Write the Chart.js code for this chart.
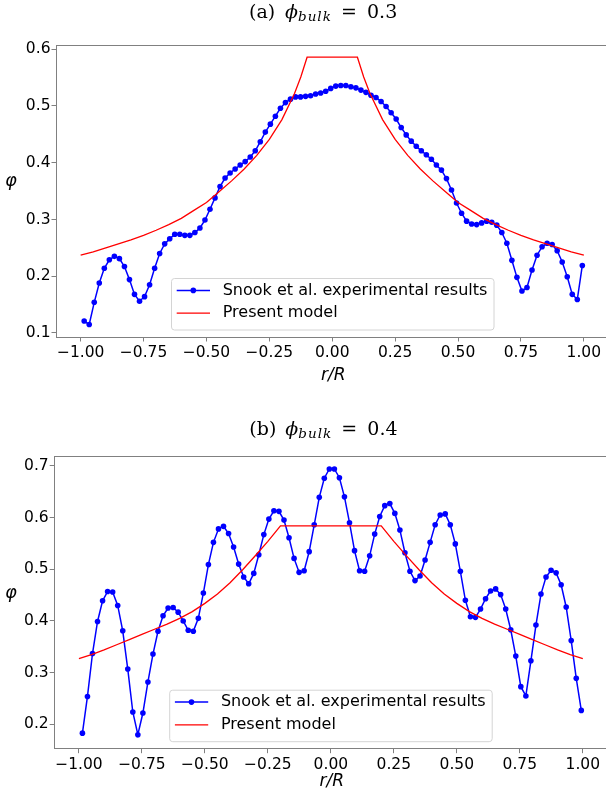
<!DOCTYPE html>
<html>
<head>
<meta charset="utf-8">
<script src="https://cdn.jsdelivr.net/npm/chart.js@4.4.1/dist/chart.umd.min.js"></script>
<style>
  html, body { margin: 0; padding: 0; background: #fff; overflow: hidden; }
  #wrap { position: relative; width: 616px; height: 789px; }
  canvas { position: absolute; left: 0; }
</style>
</head>
<body>
<div id="wrap">
  <canvas id="chartA" width="616" height="398" style="top:0"></canvas>
  <canvas id="chartB" width="616" height="391" style="top:398px"></canvas>
</div>
<script>
// radial positions of the measured points (r/R)
const rGrid = [
  -0.986, -0.966, -0.946, -0.926, -0.906, -0.886, -0.866, -0.846, -0.826, -0.806,
  -0.786, -0.766, -0.746, -0.726, -0.706, -0.686, -0.666, -0.646, -0.626, -0.606,
  -0.586, -0.566, -0.546, -0.526, -0.506, -0.486, -0.466, -0.446, -0.426, -0.406,
  -0.386, -0.366, -0.346, -0.326, -0.306, -0.286, -0.266, -0.246, -0.226, -0.206,
  -0.186, -0.166, -0.146, -0.126, -0.106, -0.086, -0.066, -0.046, -0.026, -0.006,
  0.014, 0.034, 0.054, 0.074, 0.094, 0.114, 0.134, 0.154, 0.174, 0.194,
  0.214, 0.234, 0.254, 0.274, 0.294, 0.314, 0.334, 0.354, 0.374, 0.394,
  0.414, 0.434, 0.454, 0.474, 0.494, 0.514, 0.534, 0.554, 0.574, 0.594,
  0.614, 0.634, 0.654, 0.674, 0.694, 0.714, 0.734, 0.754, 0.774, 0.794,
  0.814, 0.834, 0.854, 0.874, 0.894, 0.914, 0.934, 0.954, 0.974, 0.994
];

// (a) phi_bulk = 0.3 : Snook et al. experimental results
const snookA = [
  0.121, 0.115, 0.154, 0.188, 0.214, 0.229, 0.235, 0.231, 0.217, 0.194,
  0.168, 0.156, 0.164, 0.185, 0.214, 0.240, 0.257, 0.266, 0.274, 0.274,
  0.272, 0.272, 0.277, 0.285, 0.299, 0.318, 0.338, 0.358, 0.373, 0.382,
  0.389, 0.396, 0.402, 0.410, 0.421, 0.437, 0.454, 0.468, 0.482, 0.496,
  0.506, 0.512, 0.516, 0.516, 0.517, 0.518, 0.521, 0.523, 0.526, 0.531,
  0.535, 0.536, 0.536, 0.534, 0.532, 0.528, 0.524, 0.519, 0.515, 0.508,
  0.499, 0.488, 0.477, 0.462, 0.449, 0.438, 0.429, 0.421, 0.414, 0.406,
  0.396, 0.387, 0.372, 0.352, 0.329, 0.311, 0.297, 0.292, 0.291, 0.294,
  0.297, 0.295, 0.290, 0.277, 0.258, 0.228, 0.198, 0.174, 0.180, 0.211,
  0.237, 0.252, 0.258, 0.256, 0.245, 0.225, 0.199, 0.168, 0.159, 0.219
];

// (b) phi_bulk = 0.4 : Snook et al. experimental results
const snookB = [
  0.183, 0.254, 0.337, 0.399, 0.439, 0.457, 0.456, 0.430, 0.381, 0.307,
  0.224, 0.180, 0.222, 0.282, 0.336, 0.380, 0.410, 0.425, 0.426, 0.417,
  0.400, 0.382, 0.380, 0.405, 0.454, 0.509, 0.552, 0.578, 0.583, 0.569,
  0.543, 0.510, 0.485, 0.472, 0.492, 0.528, 0.567, 0.597, 0.613, 0.612,
  0.595, 0.561, 0.521, 0.494, 0.497, 0.534, 0.586, 0.639, 0.676, 0.694,
  0.694, 0.677, 0.640, 0.590, 0.536, 0.497, 0.496, 0.526, 0.568, 0.602,
  0.623, 0.627, 0.608, 0.576, 0.532, 0.496, 0.478, 0.487, 0.518, 0.552,
  0.586, 0.605, 0.607, 0.586, 0.549, 0.496, 0.440, 0.408, 0.407, 0.423,
  0.443, 0.458, 0.462, 0.451, 0.423, 0.383, 0.332, 0.273, 0.255, 0.323,
  0.392, 0.452, 0.485, 0.498, 0.493, 0.470, 0.427, 0.362, 0.289, 0.227
];

// present model curves
const modelRA = [
  -1.0, -0.95, -0.9, -0.85, -0.8, -0.75, -0.7, -0.65, -0.6, -0.55,
  -0.5, -0.45, -0.4, -0.35, -0.3, -0.25, -0.2, -0.15, -0.125, -0.1,
  0.1, 0.125, 0.15, 0.2, 0.25, 0.3, 0.35, 0.4, 0.45, 0.5,
  0.55, 0.6, 0.65, 0.7, 0.75, 0.8, 0.85, 0.9, 0.95, 1.0
];
const modelA = [
  0.237, 0.243, 0.250, 0.257, 0.264, 0.272, 0.281, 0.291, 0.302, 0.316,
  0.330, 0.349, 0.368, 0.389, 0.413, 0.441, 0.476, 0.522, 0.551, 0.586,
  0.586, 0.551, 0.522, 0.476, 0.441, 0.413, 0.389, 0.368, 0.349, 0.330,
  0.316, 0.302, 0.291, 0.281, 0.272, 0.264, 0.257, 0.250, 0.243, 0.237
];
const modelRB = [
  -1.0, -0.95, -0.9, -0.85, -0.8, -0.75, -0.7, -0.65, -0.6, -0.55,
  -0.5, -0.45, -0.4, -0.35, -0.3, -0.25, -0.2,
  0.2, 0.25, 0.3, 0.35, 0.4, 0.45, 0.5, 0.55, 0.6,
  0.65, 0.7, 0.75, 0.8, 0.85, 0.9, 0.95, 1.0
];
const modelB = [
  0.327, 0.335, 0.344, 0.354, 0.364, 0.374, 0.384, 0.394, 0.405, 0.418,
  0.434, 0.452, 0.474, 0.499, 0.526, 0.554, 0.584,
  0.584, 0.554, 0.526, 0.499, 0.474, 0.452, 0.434, 0.418, 0.405,
  0.394, 0.384, 0.374, 0.364, 0.354, 0.344, 0.335, 0.327
];

const xTickValues = [-1, -0.75, -0.5, -0.25, 0, 0.25, 0.5, 0.75, 1];
const yTicksA = [0.1, 0.2, 0.3, 0.4, 0.5, 0.6];
const yTicksB = [0.2, 0.3, 0.4, 0.5, 0.6, 0.7];

const CANVAS_W = 616;
const AXIS_GREY = '#808080';
const tickFont = { family: 'DejaVu Sans', size: 15.5 };

const fmtX = v => (v < 0 ? '\u2212' : '') + Math.abs(v).toFixed(2);
const fmtY = v => v.toFixed(1);

// frame, axis labels, mathtext-like title and inside legend
const decor = {
  id: 'decor',
  afterDraw(chart, args, o) {
    const { ctx, chartArea: a } = chart;
    ctx.save();

    // spines
    ctx.strokeStyle = AXIS_GREY;
    ctx.lineWidth = 1;
    const t = Math.round(a.top) + 0.5, b = Math.round(a.bottom) - 0.5;
    const l = Math.round(a.left) + 0.5, r = Math.round(a.right) - 0.5;
    ctx.strokeRect(l, t, r - l, b - t);

    // title  "(a) ϕ_bulk = 0.3"
    const x0 = o.titleX, base = o.titleY;
    ctx.fillStyle = '#000';
    ctx.textAlign = 'left';
    ctx.textBaseline = 'alphabetic';
    ctx.font = '19px "DejaVu Serif"';
    ctx.fillText(o.tag, x0, base);
    ctx.font = 'italic 19px "DejaVu Serif"';
    ctx.fillText('\u03D5', x0 + 36, base);
    ctx.font = 'italic 13.5px "DejaVu Serif"';
    ctx.letterSpacing = '1px';
    ctx.fillText('bulk', x0 + 49, base + 3.5);
    ctx.letterSpacing = '0px';
    ctx.font = '19px "DejaVu Serif"';
    ctx.fillText('=', x0 + 92, base);
    ctx.fillText(o.value, x0 + 118, base);

    // axis labels
    ctx.textAlign = 'center';
    ctx.font = 'italic 17px "DejaVu Sans"';
    ctx.fillText('r/R', (a.left + a.right) / 2 + 1, a.bottom + o.xLabelDy);
    ctx.font = 'italic 18px "DejaVu Sans"';
    ctx.fillText('\u03C6', 11, (a.top + a.bottom) / 2 - 5);

    // legend box
    const bx = a.left + 115.5, by = a.bottom - 59.5, bw = 322.5, bh = 51.5;
    ctx.beginPath();
    ctx.roundRect(bx + 0.5, by + 0.5, bw, bh, 3);
    ctx.fillStyle = 'rgba(255,255,255,0.8)';
    ctx.fill();
    ctx.strokeStyle = '#d4d4d4';
    ctx.stroke();
    chart.data.datasets.forEach((ds, i) => {
      const y = by + 12.4 + i * 22.8;
      ctx.strokeStyle = ds.borderColor;
      ctx.lineWidth = ds.borderWidth;
      ctx.beginPath();
      ctx.moveTo(bx + 5.7, y);
      ctx.lineTo(bx + 39, y);
      ctx.stroke();
      if (ds.pointRadius > 0) {
        ctx.fillStyle = ds.pointBackgroundColor;
        ctx.beginPath();
        ctx.arc(bx + 22.3, y, ds.pointRadius, 0, Math.PI * 2);
        ctx.fill();
      }
      ctx.fillStyle = '#000';
      ctx.font = '16px "DejaVu Sans"';
      ctx.textAlign = 'left';
      ctx.textBaseline = 'middle';
      ctx.fillText(ds.label, bx + 51.7, y);
    });
    ctx.restore();
  }
};

function makeChart(id, cfg) {
  return new Chart(document.getElementById(id), {
    type: 'line',
    data: {
      datasets: [
        {
          label: 'Snook et al. experimental results',
          data: rGrid.map((r, i) => ({ x: r, y: cfg.snook[i] })),
          borderColor: '#0000ff',
          backgroundColor: '#0000ff',
          pointBackgroundColor: '#0000ff',
          borderWidth: 1.5,
          pointRadius: 2.8,
          pointBorderWidth: 0,
          tension: 0,
          order: 2
        },
        {
          label: 'Present model',
          data: cfg.modelR.map((r, i) => ({ x: r, y: cfg.model[i] })),
          borderColor: '#ff0000',
          backgroundColor: '#ff0000',
          borderWidth: 1.3,
          pointRadius: 0,
          tension: 0,
          order: 1
        }
      ]
    },
    options: {
      responsive: false,
      animation: false,
      devicePixelRatio: 1,
      layout: { padding: { top: cfg.top, right: CANVAS_W - cfg.right, left: 0, bottom: 0 } },
      plugins: {
        legend: { display: false },
        tooltip: { enabled: false },
        decor: cfg.decor
      },
      scales: {
        x: {
          type: 'linear',
          min: -1.1,
          max: 1.1,
          afterFit: s => { s.height = cfg.xAxisH; },
          afterBuildTicks: s => { s.ticks = xTickValues.map(v => ({ value: v })); },
          ticks: { callback: fmtX, font: tickFont, color: '#000', padding: 2, maxRotation: 0, autoSkip: false },
          grid: { drawOnChartArea: false, drawTicks: true, tickLength: 4, tickColor: AXIS_GREY },
          border: { display: false }
        },
        y: {
          type: 'linear',
          min: cfg.yMin,
          max: cfg.yMax,
          afterFit: s => { s.width = cfg.left; },
          afterBuildTicks: s => { s.ticks = cfg.yTicks.map(v => ({ value: v })); },
          ticks: { callback: fmtY, font: tickFont, color: '#000', padding: 1, autoSkip: false },
          grid: { drawOnChartArea: false, drawTicks: true, tickLength: 4, tickColor: AXIS_GREY },
          border: { display: false }
        }
      }
    },
    plugins: [decor]
  });
}

makeChart('chartA', {
  snook: snookA, modelR: modelRA, model: modelA, yTicks: yTicksA,
  yMin: 0.092, yMax: 0.608,
  top: 44.7, left: 55.5, right: 609, xAxisH: 398 - 337.5,
  decor: { tag: '(a)', value: '0.3', titleX: 249, titleY: 17.5, xLabelDy: 42.5 }
});

makeChart('chartB', {
  snook: snookB, modelR: modelRB, model: modelB, yTicks: yTicksB,
  yMin: 0.152, yMax: 0.719,
  top: 58, left: 53.7, right: 608, xAxisH: 391 - 351.2,
  decor: { tag: '(b)', value: '0.4', titleX: 249.3, titleY: 36.5, xLabelDy: 36.8 }
});
</script>
</body>
</html>
